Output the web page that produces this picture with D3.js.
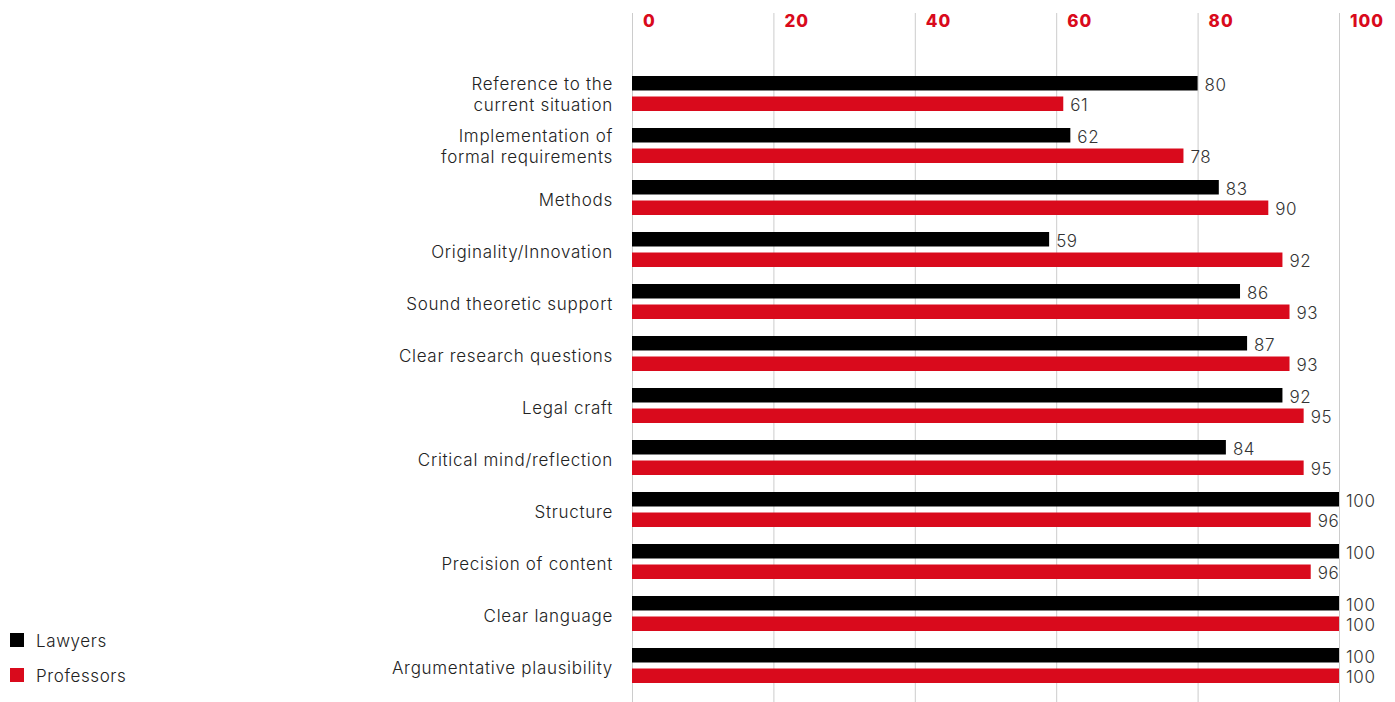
<!DOCTYPE html>
<html>
<head>
<meta charset="utf-8">
<script src="https://cdn.jsdelivr.net/npm/d3@7"></script>
<style>
  body { margin: 0; background: #fff; }
  svg text { font-family: Inter, "Noto Sans", sans-serif; }
</style>
</head>
<body>
<div id="chart"></div>
<script>
const categories = [
  ['Reference to the', 'current situation'],
  ['Implementation of', 'formal requirements'],
  ['Methods'],
  ['Originality/Innovation'],
  ['Sound theoretic support'],
  ['Clear research questions'],
  ['Legal craft'],
  ['Critical mind/reflection'],
  ['Structure'],
  ['Precision of content'],
  ['Clear language'],
  ['Argumentative plausibility']
];
const series = ['Lawyers', 'Professors'];
const lawyers = [80, 62, 83, 59, 86, 87, 92, 84, 100, 100, 100, 100];
const professors = [61, 78, 90, 92, 93, 93, 95, 95, 96, 96, 100, 100];
const ticks = [0, 20, 40, 60, 80, 100];

const colors = { Lawyers: '#000000', Professors: '#d90a1c' };
const W = 1395, H = 702;

const svg = d3.select('#chart').append('svg')
  .attr('width', W).attr('height', H);

const keys = categories.map((c, i) => i);
const x = d3.scaleLinear().domain([0, 100]).range([632, 1339]);
const y0 = d3.scaleBand().domain(keys).range([72, 696]);
const y1 = d3.scaleBand().domain(series).range([4, 39]).paddingInner(0.293);

// gridlines + top tick labels
svg.selectAll('.grid').data(ticks).enter().append('line')
  .attr('x1', d => x(d) + 0.5).attr('x2', d => x(d) + 0.5)
  .attr('y1', 13).attr('y2', H)
  .attr('stroke', '#cccccc').attr('stroke-width', 1);

svg.selectAll('.tick').data(ticks).enter().append('text')
  .attr('x', d => x(d) + 11).attr('y', 27)
  .style('fill', colors.Professors).style('font-size', '17px').style('font-weight', '800')
  .style('letter-spacing', '1px')
  .text(d => d);

const rows = keys.map(i => ({ i, values: [
  { s: 'Lawyers', v: lawyers[i] },
  { s: 'Professors', v: professors[i] }
] }));

const g = svg.selectAll('.group').data(rows).enter().append('g')
  .attr('transform', d => `translate(0,${y0(d.i)})`);

g.selectAll('rect').data(d => d.values).enter().append('rect')
  .attr('x', x(0)).attr('y', d => y1(d.s))
  .attr('width', d => x(d.v) - x(0)).attr('height', y1.bandwidth())
  .attr('fill', d => colors[d.s]);

g.selectAll('.val').data(d => d.values).enter().append('text')
  .attr('x', d => x(d.v) + 7).attr('y', d => y1(d.s) + y1.bandwidth() / 2 + 1.5)
  .attr('dy', '0.36em')
  .style('fill', '#333').style('font-size', '17px').style('font-weight', '300')
  .style('letter-spacing', '0.6px')
  .text(d => d.v);

// category labels
g.append('text')
  .attr('text-anchor', 'end')
  .style('fill', '#222').style('font-size', '17px').style('font-weight', '300')
  .style('letter-spacing', '0.7px')
  .each(function (d) {
    const lines = categories[d.i];
    const t = d3.select(this);
    if (lines.length === 2) {
      lines.forEach((l, k) => {
        t.append('tspan').attr('x', 613)
          .attr('y', y1(series[k]) + y1.bandwidth() / 2 + 1).attr('dy', '0.36em').text(l);
      });
    } else {
      t.append('tspan').attr('x', 613)
        .attr('y', (y1(series[0]) + y1(series[1]) + y1.bandwidth()) / 2 + 2).attr('dy', '0.36em')
        .text(lines[0]);
    }
  });

// legend
const leg = svg.selectAll('.leg').data(series).enter().append('g')
  .attr('transform', (d, i) => `translate(10,${633 + i * 35})`);
leg.append('rect').attr('width', 14).attr('height', 14).attr('fill', d => colors[d]);
leg.append('text').attr('x', 26).attr('y', 8).attr('dy', '0.36em')
  .style('fill', '#222').style('font-size', '17px').style('font-weight', '300')
  .style('letter-spacing', '0.6px')
  .text(d => d);
</script>
</body>
</html>
